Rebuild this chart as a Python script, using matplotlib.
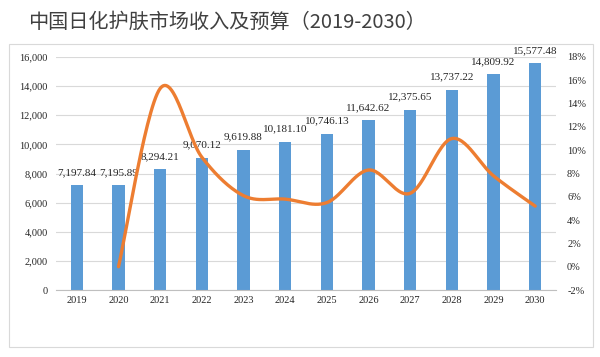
# -*- coding: utf-8 -*-
"""Bar + smoothed growth line: China skincare market revenue and forecast."""

import numpy as np
import matplotlib
matplotlib.use("Agg")
import matplotlib.pyplot as plt
from matplotlib.patches import Rectangle
from matplotlib.ticker import FuncFormatter, MultipleLocator

years = ["2019", "2020", "2021", "2022", "2023", "2024",
         "2025", "2026", "2027", "2028", "2029", "2030"]
revenue = [7197.84, 7195.89, 8294.21, 9070.12, 9619.88, 10181.10,
           10746.13, 11642.62, 12375.65, 13737.22, 14809.92, 15577.48]
# growth rate (%) starts in 2020
growth_years = years[1:]
growth = [0.0, 15.3, 9.4, 6.1, 5.8, 5.5, 8.3, 6.3, 11.0, 7.8, 5.2]

title = "中国日化护肤市场收入及预算（2019-2030）"

BAR_C = "#5B9BD5"
LINE_C = "#ED7D31"
GRID_C = "#D9D9D9"
TXT_C = "#262626"
SERIF = ["Liberation Serif", "DejaVu Serif"]


def smooth_curve(xs, ys, n=30):
    """Excel-like smoothing: cubic Bezier through points, tension 1/6."""
    pts = np.column_stack([xs, ys]).astype(float)
    ext = np.vstack([pts[0], pts, pts[-1]])
    out = []
    t = np.linspace(0, 1, n)[:, None]
    for i in range(len(pts) - 1):
        p0, p1 = ext[i + 1], ext[i + 2]
        c1 = p0 + (ext[i + 2] - ext[i]) / 6.0
        c2 = p1 - (ext[i + 3] - ext[i + 1]) / 6.0
        seg = ((1 - t) ** 3) * p0 + 3 * ((1 - t) ** 2) * t * c1 \
            + 3 * (1 - t) * t ** 2 * c2 + t ** 3 * p1
        out.append(seg if i == 0 else seg[1:])
    out = np.vstack(out)
    return out[:, 0], out[:, 1]


fig = plt.figure(figsize=(6.0, 3.57), dpi=100)
fig.patch.set_facecolor("white")

# chart frame
fig.patches.append(Rectangle((9 / 600, 1 - 347 / 357), 584 / 600, 303 / 357,
                             transform=fig.transFigure, fill=False,
                             edgecolor=GRID_C, linewidth=0.8))

fig.text(28 / 600, 1 - 22 / 357, title, fontsize=14.5, color="#404040",
         family=["Noto Sans CJK SC", "DejaVu Sans"], va="center", ha="left")

ax = fig.add_axes([56 / 600, 1 - 290 / 357, 500 / 600, 233 / 357])
x = np.arange(len(years))
bars = ax.bar(x, revenue, width=0.3, color=BAR_C, zorder=2)
for xi, v in zip(x, revenue):
    ax.annotate("{:,.2f}".format(v), (xi, v), xytext=(0, 6),
                textcoords="offset points", ha="center", va="bottom",
                fontsize=8, color=TXT_C, family=SERIF, annotation_clip=False)

ax.set_xlim(-0.5, len(years) - 0.5)
ax.set_ylim(0, 16000)
ax.yaxis.set_major_locator(MultipleLocator(2000))
ax.yaxis.set_major_formatter(FuncFormatter(lambda v, p: "{:,.0f}".format(v)))
ax.set_xticks(x)
ax.set_xticklabels(years)
ax.grid(axis="y", color=GRID_C, linewidth=0.8, zorder=0)
ax.set_axisbelow(True)
for s in ("top", "right", "left"):
    ax.spines[s].set_visible(False)
ax.spines["bottom"].set_color("#BFBFBF")
ax.tick_params(axis="both", length=0, labelsize=7.5, colors=TXT_C)
ax.tick_params(axis="y", pad=6)
ax.tick_params(axis="x", pad=4)
for lab in ax.get_xticklabels() + ax.get_yticklabels():
    lab.set_family(SERIF)

ax2 = ax.twinx()
gx = np.array([years.index(y) for y in growth_years])
sx, sy = smooth_curve(gx, growth)
ax2.plot(sx, sy, color=LINE_C, linewidth=2.4, solid_capstyle="round", zorder=3)
ax2.set_ylim(-2, 18)
ax2.yaxis.set_major_locator(MultipleLocator(2))
ax2.yaxis.set_major_formatter(FuncFormatter(lambda v, p: "{:.0f}%".format(v)))
for s in ("top", "right", "left", "bottom"):
    ax2.spines[s].set_visible(False)
ax2.tick_params(axis="y", length=0, labelsize=7.5, colors=TXT_C, pad=8)
for lab in ax2.get_yticklabels():
    lab.set_family(SERIF)

fig.savefig("out.png", dpi=100)
